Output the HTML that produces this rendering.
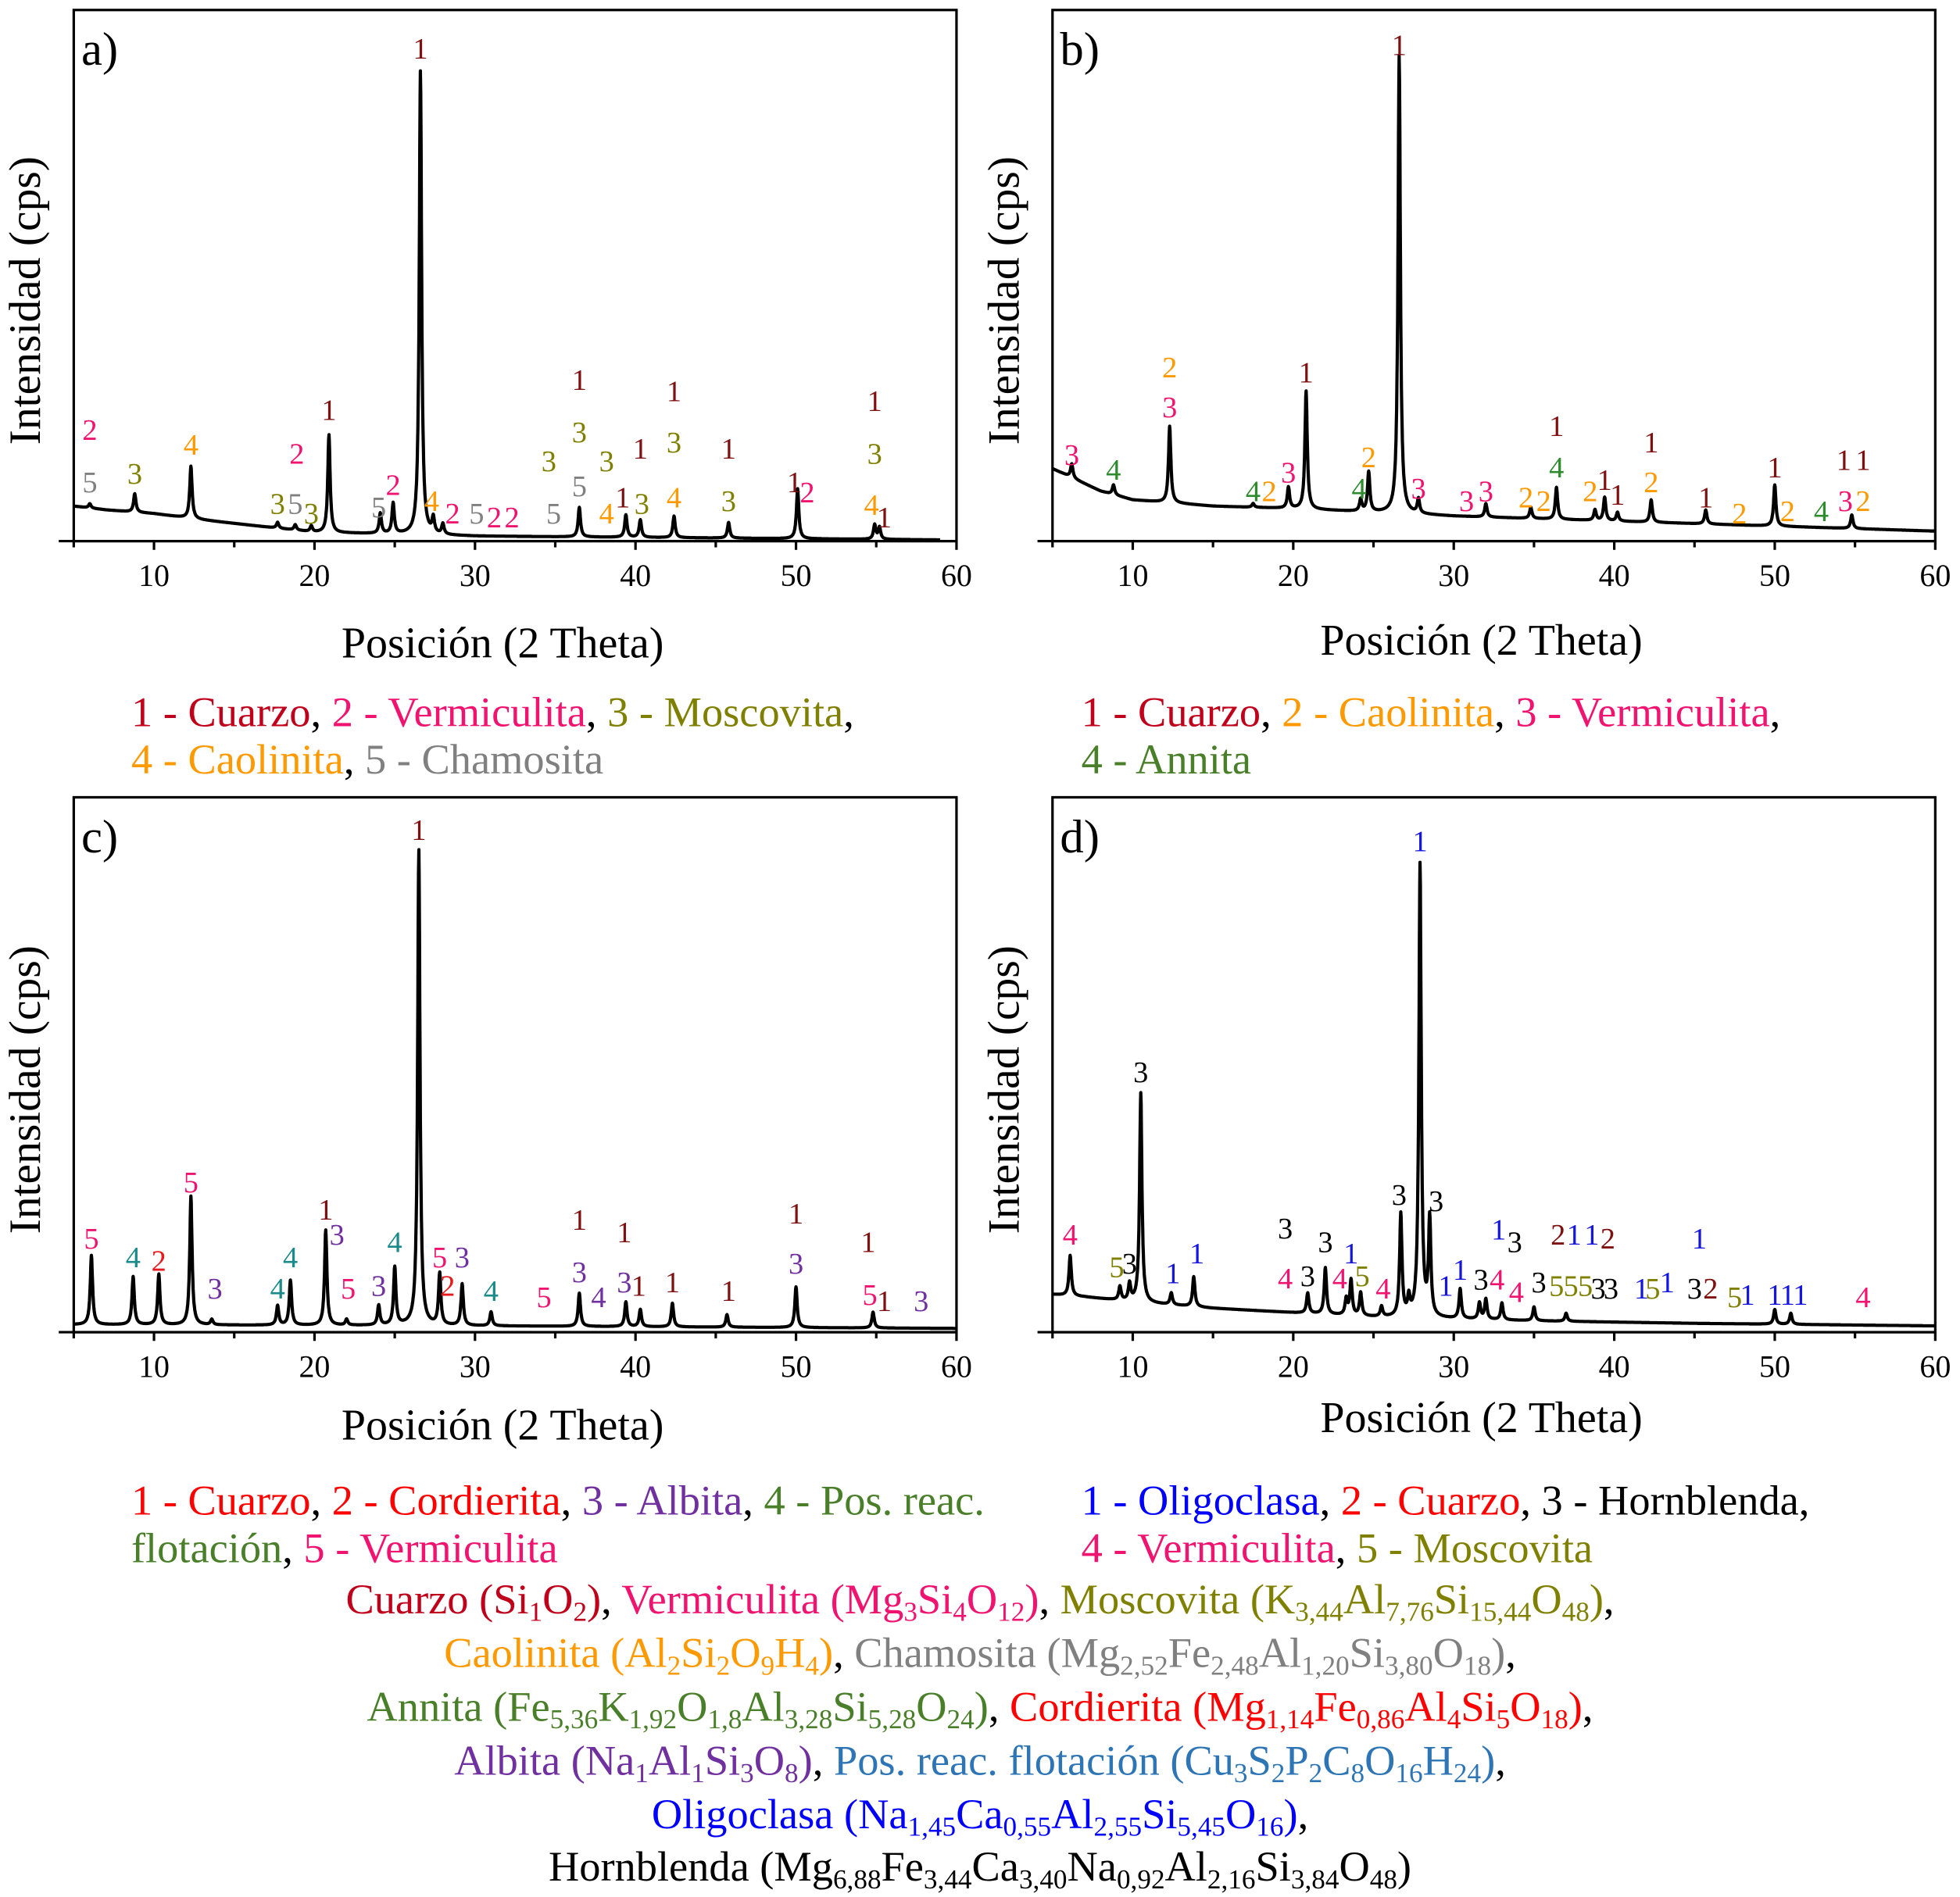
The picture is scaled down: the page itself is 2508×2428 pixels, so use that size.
<!DOCTYPE html>
<html><head><meta charset="utf-8">
<style>
html,body{margin:0;padding:0;background:#fff;}
body{width:2508px;height:2428px;overflow:hidden;}
#page{position:absolute;left:0;top:0;width:1568px;height:1518px;transform:scale(1.5995);transform-origin:0 0;font-family:"Liberation Serif","DejaVu Serif",serif;}
svg{position:absolute;left:0;top:0;font-family:"Liberation Serif","DejaVu Serif",serif;}
.leg{position:absolute;font-size:34px;white-space:nowrap;line-height:38px;font-family:"Liberation Serif",serif;}
.f{position:absolute;left:0;width:1568px;text-align:center;font-size:34px;white-space:nowrap;font-family:"Liberation Serif",serif;}
sub{font-size:22px;vertical-align:-6px;line-height:0;}
.cu{color:#c0001a}.ve{color:#f0136f}.mo{color:#808000}.ca{color:#ff9900}.ch{color:#808080}.an{color:#4a7f2a}.co{color:#ff0000}.al{color:#7030a0}.po{color:#2e75b6}.ol{color:#0000ff}.ho{color:#000}
</style></head><body>
<div id="page">
<svg id="chart" width="1568" height="1518" viewBox="0 0 1568 1518"></svg>

<div class="leg" style="left:105px;top:552px"><span class="cu">1 - Cuarzo</span>, <span class="ve">2 - Vermiculita</span>, <span class="mo">3 - Moscovita</span>,<br><span class="ca">4 - Caolinita</span>, <span class="ch">5 - Chamosita</span></div>
<div class="leg" style="left:865px;top:552px"><span class="cu">1 - Cuarzo</span>, <span class="ca">2 - Caolinita</span>, <span class="ve">3 - Vermiculita</span>,<br><span class="an">4 - Annita</span></div>
<div class="leg" style="left:105px;top:1183px"><span class="co">1 - Cuarzo</span>, <span class="co">2 - Cordierita</span>, <span class="al">3 - Albita</span>, <span class="an">4 - Pos. reac.</span><br><span class="an">flotación</span>, <span class="ve">5 - Vermiculita</span></div>
<div class="leg" style="left:865px;top:1183px"><span class="ol">1 - Oligoclasa</span>, <span class="co">2 - Cuarzo</span>, 3 - Hornblenda,<br><span class="ve">4 - Vermiculita</span>, <span class="mo">5 - Moscovita</span></div>

<div class="f" style="top:1262px"><span class="cu">Cuarzo (Si<sub>1</sub>O<sub>2</sub>)</span>, <span class="ve">Vermiculita (Mg<sub>3</sub>Si<sub>4</sub>O<sub>12</sub>)</span>, <span class="mo">Moscovita (K<sub>3,44</sub>Al<sub>7,76</sub>Si<sub>15,44</sub>O<sub>48</sub>)</span>,</div>
<div class="f" style="top:1305px"><span class="ca">Caolinita (Al<sub>2</sub>Si<sub>2</sub>O<sub>9</sub>H<sub>4</sub>)</span>, <span class="ch">Chamosita (Mg<sub>2,52</sub>Fe<sub>2,48</sub>Al<sub>1,20</sub>Si<sub>3,80</sub>O<sub>18</sub>)</span>,</div>
<div class="f" style="top:1348px"><span class="an">Annita (Fe<sub>5,36</sub>K<sub>1,92</sub>O<sub>1,8</sub>Al<sub>3,28</sub>Si<sub>5,28</sub>O<sub>24</sub>)</span>, <span class="co">Cordierita (Mg<sub>1,14</sub>Fe<sub>0,86</sub>Al<sub>4</sub>Si<sub>5</sub>O<sub>18</sub>)</span>,</div>
<div class="f" style="top:1391px"><span class="al">Albita (Na<sub>1</sub>Al<sub>1</sub>Si<sub>3</sub>O<sub>8</sub>)</span>, <span class="po">Pos. reac. flotación (Cu<sub>3</sub>S<sub>2</sub>P<sub>2</sub>C<sub>8</sub>O<sub>16</sub>H<sub>24</sub>)</span>,</div>
<div class="f" style="top:1434px"><span class="ol">Oligoclasa (Na<sub>1,45</sub>Ca<sub>0,55</sub>Al<sub>2,55</sub>Si<sub>5,45</sub>O<sub>16</sub>)</span>,</div>
<div class="f" style="top:1476px"><span class="ho">Hornblenda (Mg<sub>6,88</sub>Fe<sub>3,44</sub>Ca<sub>3,40</sub>Na<sub>0,92</sub>Al<sub>2,16</sub>Si<sub>3,84</sub>O<sub>48</sub>)</span></div>
</div>
<script>
// x ticks
const xTicks = [10,20,30,40,50,60];
// backgrounds [2theta, counts]
const bgA = [[5,28],[7,25],[10,22],[13,17],[20,7],[30,4],[40,3],[59,1]];
const bgB = [[5,58],[8,40],[10,33],[15,28],[20,26],[30,20],[40,16],[50,12],[60,8]];
const bgC = [[5,6],[30,5],[60,3]];
const bgD = [[5,30],[7,28],[10,24],[15,19],[25,12],[35,9],[45,7],[60,5]];
// peaks: position, top counts
const peakPosA = [6,8.8,12.3,17.7,18.8,19.8,20.9,24.1,24.9,26.6,27.4,28,36.5,39.4,40.3,42.4,45.8,50.1,54.9,55.2];
const peakTopA = [30,38,60,15,13,12,85,22,30,376,17,13,27,21,17,20,15,42,13,11];
const peakPosB = [6.2,8.8,12.3,17.5,19.7,20.8,24.2,24.7,26.6,27.8,32,34.8,36.4,38.8,39.4,40.2,42.3,45.7,50,54.8];
const peakTopB = [62,45,92,30,43,120,33,55,388,33,30,27,43,25,35,23,33,25,45,21];
const peakPosC = [6.1,8.7,10.3,12.3,13.6,17.7,18.5,20.7,22,24,25,26.5,27.8,29.2,31,36.5,39.4,40.3,42.3,45.7,50,54.8];
const peakTopC = [61,44,46,108,10,21,41,81,10,21,51,383,46,38,16,31,24,18,23,14,36,16];
const peakPosD = [6.1,9.2,9.8,10.5,12.4,13.8,20.9,22,23.3,23.6,24.2,25.5,26.7,27.2,27.9,28.5,30.4,31.6,32,33,35,37,50,51];
const peakTopD = [61,36,38,190,31,44,31,51,26,41,31,20,93,25,371,88,34,23,26,23,20,15,18,15];
// labels: text, 2theta, y(px, panel-relative from box top), colour
const labA = [["2",6,335,"#f0136f"],["5",6,377,"#808080"],["3",8.8,370,"#808000"],["4",12.3,347,"#ff9900"],["3",17.7,394,"#808000"],["5",18.8,394,"#808080"],["3",19.8,402,"#808000"],["2",18.9,354,"#f0136f"],["1",20.9,319,"#7f1010"],["5",24,397,"#808080"],["2",24.9,379,"#f0136f"],["1",26.6,30,"#7f1010"],["4",27.3,392,"#ff9900"],["2",28.6,402,"#f0136f"],["5",30.1,402,"#808080"],["2",31.2,405,"#f0136f"],["2",32.3,405,"#f0136f"],["5",34.9,402,"#808080"],["5",36.5,380,"#808080"],["3",34.6,360,"#808000"],["3",36.5,337,"#808000"],["1",36.5,295,"#7f1010"],["3",38.2,360,"#808000"],["4",38.2,402,"#ff9900"],["1",39.2,389,"#7f1010"],["1",40.3,350,"#7f1010"],["3",40.4,394,"#808000"],["1",42.4,304,"#7f1010"],["3",42.4,345,"#808000"],["4",42.4,389,"#ff9900"],["1",45.8,350,"#7f1010"],["3",45.8,392,"#808000"],["1",49.9,377,"#7f1010"],["2",50.7,385,"#f0136f"],["1",54.9,312,"#7f1010"],["3",54.9,354,"#808000"],["4",54.7,395,"#ff9900"],["1",55.5,405,"#7f1010"]];
const labB = [["3",6.2,355,"#f0136f"],["4",8.8,367,"#2e8b2e"],["2",12.3,285,"#ff9900"],["3",12.3,317,"#f0136f"],["4",17.5,384,"#2e8b2e"],["2",18.5,384,"#ff9900"],["3",19.7,369,"#f0136f"],["1",20.8,289,"#7f1010"],["4",24.1,382,"#2e8b2e"],["2",24.7,357,"#ff9900"],["1",26.6,27,"#7f1010"],["3",27.8,382,"#f0136f"],["3",30.8,392,"#f0136f"],["3",32,384,"#f0136f"],["2",34.5,389,"#ff9900"],["2",35.6,392,"#ff9900"],["4",36.4,365,"#2e8b2e"],["1",36.4,332,"#7f1010"],["2",38.5,384,"#ff9900"],["1",39.4,375,"#7f1010"],["1",40.2,387,"#7f1010"],["2",42.3,377,"#ff9900"],["1",42.3,345,"#7f1010"],["1",45.7,389,"#7f1010"],["2",47.8,402,"#ff9900"],["1",50,365,"#7f1010"],["2",50.8,400,"#ff9900"],["4",52.9,400,"#2e8b2e"],["1",54.3,359,"#7f1010"],["1",55.5,359,"#7f1010"],["3",54.4,392,"#f0136f"],["2",55.5,392,"#ff9900"]];
const labC = [["5",6.1,352,"#f0136f"],["4",8.7,367,"#1a8a8a"],["2",10.3,370,"#e41a1c"],["5",12.3,307,"#f0136f"],["3",13.8,392,"#7030a0"],["4",17.7,392,"#1a8a8a"],["4",18.5,367,"#1a8a8a"],["1",20.7,329,"#7f1010"],["3",21.4,349,"#7030a0"],["5",22.1,392,"#f0136f"],["3",24,390,"#7030a0"],["4",25,355,"#1a8a8a"],["1",26.5,25,"#7f1010"],["5",27.8,367,"#f0136f"],["3",29.2,367,"#7030a0"],["2",28.3,390,"#e41a1c"],["4",31,394,"#1a8a8a"],["5",34.3,399,"#f0136f"],["1",36.5,337,"#7f1010"],["3",36.5,379,"#7030a0"],["4",37.7,399,"#7030a0"],["1",39.3,347,"#7f1010"],["3",39.3,387,"#7030a0"],["1",40.2,390,"#7f1010"],["1",42.3,387,"#7f1010"],["1",45.8,394,"#7f1010"],["1",50,332,"#7f1010"],["3",50,372,"#7030a0"],["1",54.5,355,"#7f1010"],["5",54.6,397,"#f0136f"],["1",55.5,402,"#7f1010"],["3",57.8,402,"#7030a0"]];
const labD = [["4",6.1,349,"#f0136f"],["5",9,375,"#808000"],["3",9.8,372,"#000"],["1",12.5,380,"#1515e0"],["1",14,364,"#1515e0"],["3",10.5,219,"#000"],["3",19.5,344,"#000"],["4",19.5,384,"#f0136f"],["3",20.9,382,"#000"],["3",22,355,"#000"],["4",22.9,384,"#f0136f"],["1",23.6,364,"#1515e0"],["5",24.3,382,"#808000"],["4",25.6,392,"#f0136f"],["3",26.6,317,"#000"],["1",27.9,34,"#1515e0"],["3",28.9,322,"#000"],["1",29.5,390,"#1515e0"],["1",30.4,377,"#1515e0"],["3",31.7,385,"#000"],["4",32.7,385,"#f0136f"],["4",33.9,395,"#f0136f"],["1",32.8,345,"#1515e0"],["3",33.8,355,"#000"],["3",35.3,387,"#000"],["5",36.4,390,"#808000"],["5",37.3,390,"#808000"],["5",38.2,390,"#808000"],["3",39,392,"#000"],["3",39.8,392,"#000"],["2",36.5,349,"#7f1010"],["1",37.5,349,"#1515e0"],["1",38.6,349,"#1515e0"],["2",39.6,352,"#7f1010"],["1",41.7,392,"#1515e0"],["5",42.4,392,"#808000"],["1",43.3,387,"#1515e0"],["1",45.3,352,"#1515e0"],["3",45,392,"#000"],["2",46,392,"#7f1010"],["5",47.5,399,"#808000"],["1",48.3,397,"#1515e0"],["1",50,397,"#1515e0"],["1",50.8,397,"#1515e0"],["1",51.6,397,"#1515e0"],["4",55.5,399,"#f0136f"]];

const NS='http://www.w3.org/2000/svg';
const svg=document.getElementById('chart');
function mk(tag,attrs,parent){const e=document.createElementNS(NS,tag);for(const k in attrs)e.setAttribute(k,attrs[k]);(parent||svg).appendChild(e);return e;}
function interp(bg,x){for(let i=0;i<bg.length-1;i++){if(x<=bg[i+1][0]){const t=(x-bg[i][0])/(bg[i+1][0]-bg[i][0]);return bg[i][1]+t*(bg[i+1][1]-bg[i][1]);}}return bg[bg.length-1][1];}

function panel(id,L,T,B,xEnd,letter,bg,pp,pt,labs,titleY){
  const R=L+12.84*55, H=B-T;
  const g=mk('g',{});
  
  
  const xs=v=>L+(v-5)*12.84;
  const ys=c=>B-c*(H/425);
  const box=mk('rect',{x:L,y:T,width:R-L,height:H,fill:'none',stroke:'#000','stroke-width':2},g);
  
  
  const ax=mk('line',{x1:L-12,y1:B,x2:R,y2:B,stroke:'#000','stroke-width':2},g);
  
  
  for(let v=5;v<=60;v+=5){
    const major=v%10===0;
    mk('line',{x1:xs(v),y1:B,x2:xs(v),y2:B+(major?7:5),stroke:'#000','stroke-width':2},g);
  }
  xTicks.forEach(v=>{
    const t=mk('text',{x:xs(v),y:B+36,'text-anchor':'middle','font-size':25,fill:'#000'},g);
    t.textContent=v;
    
    
  });
  const widths=pp.map(()=>0.11);
  const hts=pp.map((p,i)=>pt[i]-interp(bg,p));
  let d='';
  for(let x=5.0;x<=xEnd;x+=0.02){
    let c=interp(bg,x);
    for(let i=0;i<pp.length;i++){const u=(x-pp[i])/widths[i];c+=hts[i]/(1+u*u*1.6);}
    d+=(d?'L':'M')+xs(x).toFixed(1)+','+ys(c).toFixed(1);
  }
  const path=mk('path',{d:d,fill:'none',stroke:'#000','stroke-width':2.6,'stroke-linejoin':'round'},g);
  
  
  labs.forEach(l=>{
    const t=mk('text',{x:xs(l[1]),y:T+l[2]+9,'text-anchor':'middle','font-size':24,fill:l[3]},g);
    t.textContent=l[0];
    
    
  });
  const lt=mk('text',{x:L+6,y:T+44,'font-size':38,fill:'#000'},g);
  lt.textContent=letter;
  
  
  const xt=mk('text',{x:(L+R)/2-10,y:titleY,'text-anchor':'middle','font-size':35,fill:'#000'},g);
  xt.textContent='Posición (2 Theta)';
  
  
  const yt=mk('text',{x:0,y:0,'text-anchor':'middle','font-size':36,fill:'#000',transform:`translate(${L-27},${(T+B)/2+20}) rotate(-90)`},g);
  yt.textContent='Intensidad (cps)';
  
  
}
panel('a',59,8,433,59,'a)',bgA,peakPosA,peakTopA,labA,526);
panel('b',842,8,433,60,'b)',bgB,peakPosB,peakTopB,labB,524);
panel('c',59,638,1066,60,'c)',bgC,peakPosC,peakTopC,labC,1152);
panel('d',842,638,1066,60,'d)',bgD,peakPosD,peakTopD,labD,1146);
</script>
</body></html>
